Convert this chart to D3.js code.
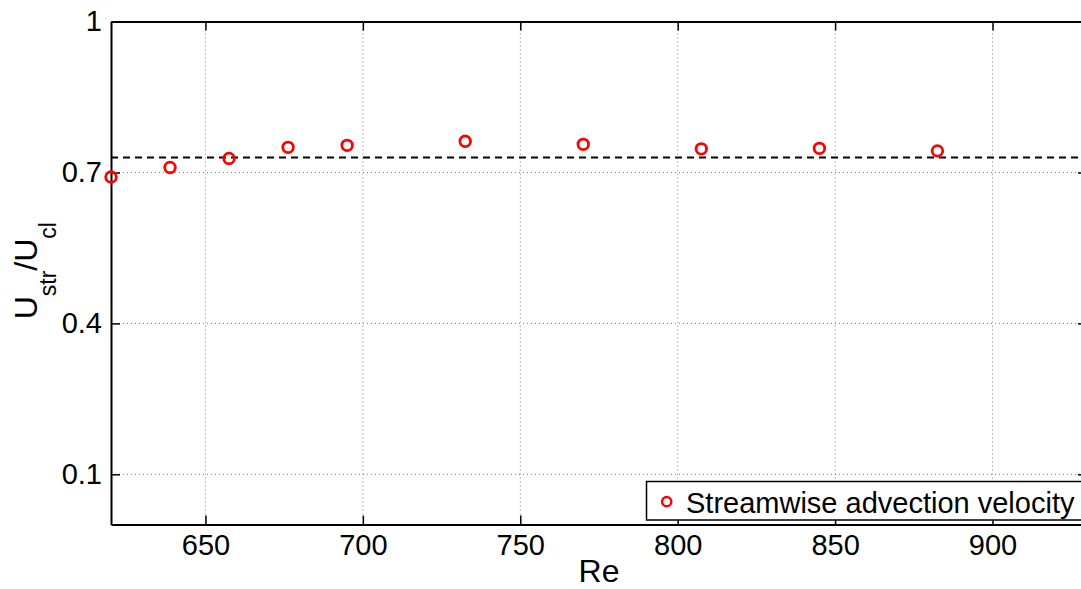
<!DOCTYPE html>
<html>
<head>
<meta charset="utf-8">
<script src="https://d3js.org/d3.v7.min.js"></script>
<style>
  body { margin: 0; background: #fff; }
  svg { display: block; font-family: "Liberation Sans", Arial, Helvetica, sans-serif; }
</style>
</head>
<body>
<div id="chart"></div>
<script>
// Reynolds numbers and measured streamwise advection velocity ratio
const reValues = [620, 638.75, 657.5, 676.25, 695, 732.5, 770, 807.5, 845, 882.5];
const ustrValues = [0.691, 0.710, 0.728, 0.750, 0.754, 0.762, 0.756, 0.747, 0.748, 0.743];
const meanValue = 0.73;
const xTicks = [650, 700, 750, 800, 850, 900];
const yTicks = [0.1, 0.4, 0.7, 1];
const legendLabel = 'Streamwise advection velocity';

const W = 1081, H = 589;
const margin = { top: 21.6, right: -6, bottom: 64.4, left: 111 };
const width = W - margin.left - margin.right;
const height = H - margin.top - margin.bottom;

const svg = d3.select('#chart')
  .append('svg')
  .attr('width', W)
  .attr('height', H);

const g = svg.append('g')
  .attr('transform', `translate(${margin.left},${margin.top})`);

const x = d3.scaleLinear().domain([620, 930]).range([0, width]);
const y = d3.scaleLinear().domain([0, 1]).range([height, 0]);

// dotted grid
g.append('g')
  .selectAll('line')
  .data(xTicks)
  .enter()
  .append('line')
  .attr('x1', (d) => x(d))
  .attr('x2', (d) => x(d))
  .attr('y1', 0)
  .attr('y2', height)
  .attr('stroke', '#7a7a7a')
  .attr('stroke-width', 1)
  .attr('stroke-dasharray', '1,3');

g.append('g')
  .selectAll('line')
  .data(yTicks.filter((d) => d < 1))
  .enter()
  .append('line')
  .attr('x1', 0)
  .attr('x2', width)
  .attr('y1', (d) => y(d))
  .attr('y2', (d) => y(d))
  .attr('stroke', '#7a7a7a')
  .attr('stroke-width', 1)
  .attr('stroke-dasharray', '1,3');

// axes, ticks pointing inward
const fmt = (d) => d3.format('~g')(d);

const styleAxis = (sel) => {
  sel.select('.domain').attr('stroke', '#000').attr('stroke-width', 2);
  sel.selectAll('.tick line').attr('stroke', '#000').attr('stroke-width', 1.5);
  sel.selectAll('text')
    .attr('fill', '#000')
    .style('font-size', '29px')
    .style('font-family', '"Liberation Sans", Arial, sans-serif');
};

g.append('g')
  .attr('transform', `translate(0,${height})`)
  .call(d3.axisBottom(x).tickValues(xTicks).tickFormat(fmt)
    .tickSizeInner(-9).tickSizeOuter(0).tickPadding(10))
  .call(styleAxis);

g.append('g')
  .call(d3.axisTop(x).tickValues(xTicks).tickFormat('')
    .tickSizeInner(-9).tickSizeOuter(0))
  .call(styleAxis);

g.append('g')
  .call(d3.axisLeft(y).tickValues(yTicks).tickFormat(fmt)
    .tickSizeInner(-9).tickSizeOuter(0).tickPadding(9))
  .call(styleAxis);

g.append('g')
  .attr('transform', `translate(${width},0)`)
  .call(d3.axisRight(y).tickValues(yTicks).tickFormat('')
    .tickSizeInner(-9).tickSizeOuter(0))
  .call(styleAxis);

// mean line
g.append('line')
  .attr('x1', 0)
  .attr('x2', width)
  .attr('y1', y(meanValue))
  .attr('y2', y(meanValue))
  .attr('stroke', '#000')
  .attr('stroke-width', 2)
  .attr('stroke-dasharray', '7,5');

// data markers
g.selectAll('circle.pt')
  .data(reValues.map((re, i) => ({ re, v: ustrValues[i] })))
  .enter()
  .append('circle')
  .attr('class', 'pt')
  .attr('cx', (d) => x(d.re))
  .attr('cy', (d) => y(d.v))
  .attr('r', 5.3)
  .attr('fill', 'none')
  .attr('stroke', '#ff0000')
  .attr('stroke-width', 2.8);

// legend
const legend = svg.append('g').attr('transform', 'translate(646.5,481.5)');
legend.append('rect')
  .attr('width', 436)
  .attr('height', 38.5)
  .attr('fill', '#fff')
  .attr('stroke', '#000')
  .attr('stroke-width', 1.5);
legend.append('circle')
  .attr('cx', 20.2)
  .attr('cy', 20.2)
  .attr('r', 4.6)
  .attr('fill', 'none')
  .attr('stroke', '#ff0000')
  .attr('stroke-width', 2.5);
legend.append('text')
  .attr('x', 39.5)
  .attr('y', 31.2)
  .attr('fill', '#000')
  .style('font-size', '29px')
  .text(legendLabel);

// axis labels
svg.append('text')
  .attr('x', margin.left + width / 2)
  .attr('y', 581.5)
  .attr('text-anchor', 'middle')
  .attr('fill', '#000')
  .style('font-size', '32px')
  .text('Re');

const yl = svg.append('text')
  .attr('transform', 'translate(36.7,270.7) rotate(-90)')
  .attr('text-anchor', 'middle')
  .attr('fill', '#000')
  .style('font-size', '32px');
yl.append('tspan').text('U');
yl.append('tspan').attr('dy', 19).style('font-size', '23px').text('str');
yl.append('tspan').attr('dy', -19).text('/U');
yl.append('tspan').attr('dy', 19).style('font-size', '23px').text('cl');
</script>
</body>
</html>
